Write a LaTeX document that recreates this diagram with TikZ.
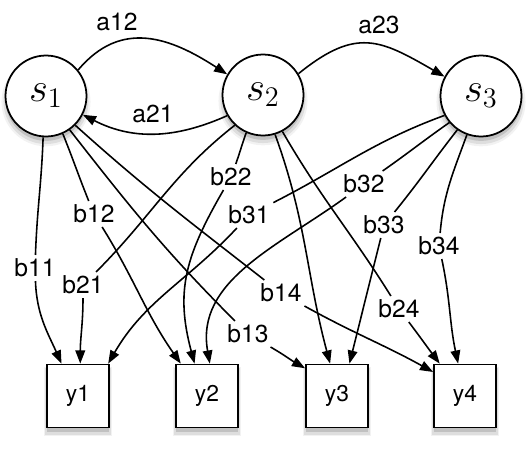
\documentclass[tikz,border=0pt]{standalone}
\usepackage{graphicx}
\usepackage{fontspec}
\setsansfont{TeX Gyre Heros}
\usetikzlibrary{arrows.meta,shadows}
\newcommand{\stlabel}[1]{\scalebox{1.12}{\huge $s_{#1}$}}
\begin{document}
\begin{tikzpicture}[x=0.02cm,y=0.02cm,
  shadowed/.style={drop shadow={shadow scale=1.1,shadow xshift=0pt,shadow yshift=-3pt,opacity=0.10},
                   drop shadow={shadow scale=1.05,shadow xshift=0pt,shadow yshift=-3pt,opacity=0.18},
                   drop shadow={shadow xshift=0pt,shadow yshift=-2.5pt,opacity=0.3}},
  state/.style={circle,draw,line width=1pt,fill=white,minimum size=1.62cm,inner sep=0pt,
                shadowed},
  obs/.style={rectangle,draw,line width=1pt,fill=white,minimum width=1.24cm,minimum height=1.26cm,
              inner sep=0pt,shadowed,font=\sffamily\fontsize{13}{15}\selectfont},
  lab/.style={inner sep=2pt,font=\sffamily\fontsize{14}{16}\selectfont},
  conn/.style={line width=0.9pt},
  arr/.style={conn,-{Triangle[length=7.5pt,width=5.5pt]}}
]
\useasboundingbox (0,0) rectangle (530,471);

% states
\node[state] (s1) at (46,375) {\stlabel{1}};
\node[state] (s2) at (263,376) {\stlabel{2}};
\node[state] (s3) at (481,375) {\stlabel{3}};

% observations
\node[obs] (y1) at (78,75) {y1};
\node[obs] (y2) at (207,75) {y2};
\node[obs] (y3) at (337,75) {y3};
\node[obs] (y4) at (465,75) {y4};

% labels
\node[lab] (la12) at (117,449) {a12};
\node[lab] (la21) at (153,357) {a21};
\node[lab] (la23) at (379,446) {a23};
\node[lab] (lb11) at (35,203) {b11};
\node[lab] (lb12) at (94,257) {b12};
\node[lab] (lb13) at (248,137) {b13};
\node[lab] (lb14) at (281,178) {b14};
\node[lab] (lb21) at (83,186) {b21};
\node[lab] (lb22) at (231,294) {b22};
\node[lab] (lb24) at (399,162) {b24};
\node[lab] (lb31) at (249,256) {b31};
\node[lab] (lb32) at (364,287) {b32};
\node[lab] (lb33) at (384,246) {b33};
\node[lab] (lb34) at (439,225) {b34};

% transitions
\draw[arr] (s1.39) to[out=50,in=147,looseness=1.15] (s2.150);
\draw[arr] (s2.210) to[out=204,in=333] (s1.333);
\draw[arr] (s2.31) to[out=39,in=150,looseness=1.3] (s3.152);

% emissions
\draw[conn] (s1.266) to[out=268,in=88] (lb11);
\draw[arr] (lb11) to[out=272,in=114] (y1.117);
\draw[conn] (s1.294) to[out=292,in=112] (lb12);
\draw[arr] (lb12) to[out=302,in=125] (y2.129);
\draw[conn] (s1.305) to[out=308,in=135] (lb13);
\draw[arr] (lb13) to[out=330,in=150] (y3.139);
\draw[conn] (s1.315) to[out=318,in=142] (lb14);
\draw[arr] (lb14) to[out=331,in=151] (y4.143);

\draw[conn] (s2.227) to[out=218,in=45] (lb21);
\draw[arr] (lb21) to[out=270,in=90] (y1.86);
\draw[conn] (s2.246) to[out=250,in=70] (lb22);
\draw[arr] (lb22) to[out=240,in=105,looseness=1.1] (y2.111);
\draw[arr] (s2.287) to[out=290,in=105] (y3.102);
\draw[conn] (s2.298) to[out=300,in=122] (lb24);
\draw[arr] (lb24) to[out=307,in=127] (y4.128);

\draw[conn] (s3.208) to[out=200,in=27] (lb31);
\draw[arr] (lb31) to[out=227,in=60] (y1.47);
\draw[conn] (s3.220) to[out=215,in=35] (lb32);
\draw[arr] (lb32) to[out=216,in=100] (y2.85);
\draw[conn] (s3.235) to[out=232,in=51] (lb33);
\draw[arr] (lb33) to[out=256,in=76] (y3.69);
\draw[conn] (s3.250) to[out=250,in=85] (lb34);
\draw[arr] (lb34) to[out=282,in=102] (y4.102);
\end{tikzpicture}
\end{document}
